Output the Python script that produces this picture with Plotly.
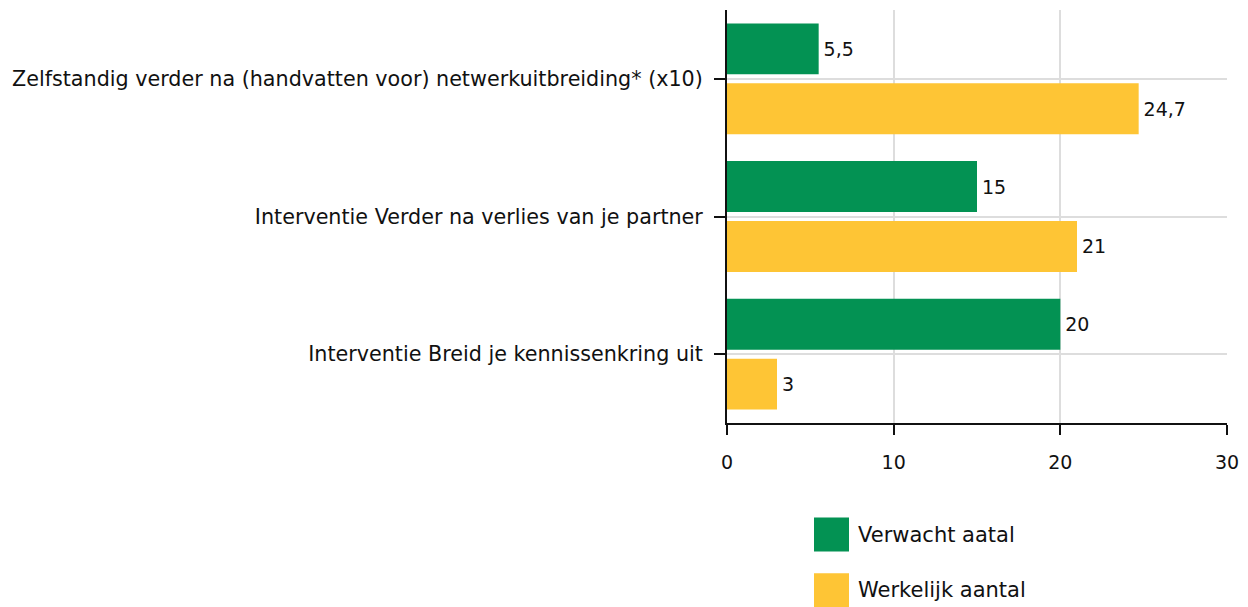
import plotly.graph_objects as go

categories = [
    "Zelfstandig verder na (handvatten voor) netwerkuitbreiding* (x10)",
    "Interventie Verder na verlies van je partner",
    "Interventie Breid je kennissenkring uit",
]
verwacht = [5.5, 15, 20]
werkelijk = [24.7, 21, 3]
series_names = ["Verwacht aatal", "Werkelijk aantal"]
x_ticks = [0, 10, 20, 30]

GREEN = "#039253"
YELLOW = "#FEC535"
CAT_FONT = "DejaVu Sans"
NUM_FONT = "DejaVu Sans"


def fmt(v):
    s = ("%g" % v)
    return s.replace(".", ",")


fig = go.Figure()
for name, vals, col in [(series_names[0], verwacht, GREEN), (series_names[1], werkelijk, YELLOW)]:
    fig.add_trace(go.Bar(
        y=categories, x=vals, name=name, orientation="h",
        marker=dict(color=col, line=dict(width=0)),
        text=["\u200a" + fmt(v) for v in vals], textposition="outside",
        textfont=dict(family=NUM_FONT, size=19, color="#111111"),
        cliponaxis=False, showlegend=False, hoverinfo="skip",
    ))

fig.update_layout(
    width=1248, height=607,
    margin=dict(l=727, r=21, t=10, b=184),
    paper_bgcolor="white", plot_bgcolor="white",
    barmode="group", bargap=0.129, bargroupgap=0.15,
    separators=",.",
    font=dict(family=CAT_FONT, color="#111111"),
)
fig.update_xaxes(
    range=[0, 30], tickvals=x_ticks, ticktext=[str(t) for t in x_ticks],
    showgrid=True, gridcolor="#dddddd", gridwidth=2,
    showline=True, linecolor="#111111", linewidth=2,
    ticks="outside", ticklen=10, tickwidth=2, tickcolor="#111111",
    tickfont=dict(family=NUM_FONT, size=19, color="#111111"),
    ticklabelstandoff=11, zeroline=False,
)
fig.update_yaxes(
    categoryorder="array", categoryarray=categories, autorange="reversed",
    showgrid=True, gridcolor="#dddddd", gridwidth=2,
    showline=True, linecolor="#111111", linewidth=2,
    ticks="outside", ticklen=11, tickwidth=2, tickcolor="#111111",
    tickfont=dict(family=CAT_FONT, size=20.7, color="#111111"),
    ticklabelstandoff=7,
)

# legend drawn as swatches + labels below the plot
legend_rows = [(-0.229, -0.311, -0.270, GREEN, series_names[0]),
               (-0.364, -0.447, -0.405, YELLOW, series_names[1])]
for y0, y1, yt, col, label in legend_rows:
    fig.add_shape(type="rect", xref="paper", yref="paper",
                  x0=0.174, x1=0.244, y0=y1, y1=y0,
                  fillcolor=col, line=dict(width=0))
    fig.add_annotation(xref="paper", yref="paper", x=0.258, y=yt,
                       text=label, showarrow=False, xanchor="left", yanchor="middle",
                       font=dict(family=CAT_FONT, size=21, color="#111111"))

fig.write_html("out.html", config={"displayModeBar": False},
               post_script="document.body.style.margin='0';document.body.style.overflow='hidden';")
